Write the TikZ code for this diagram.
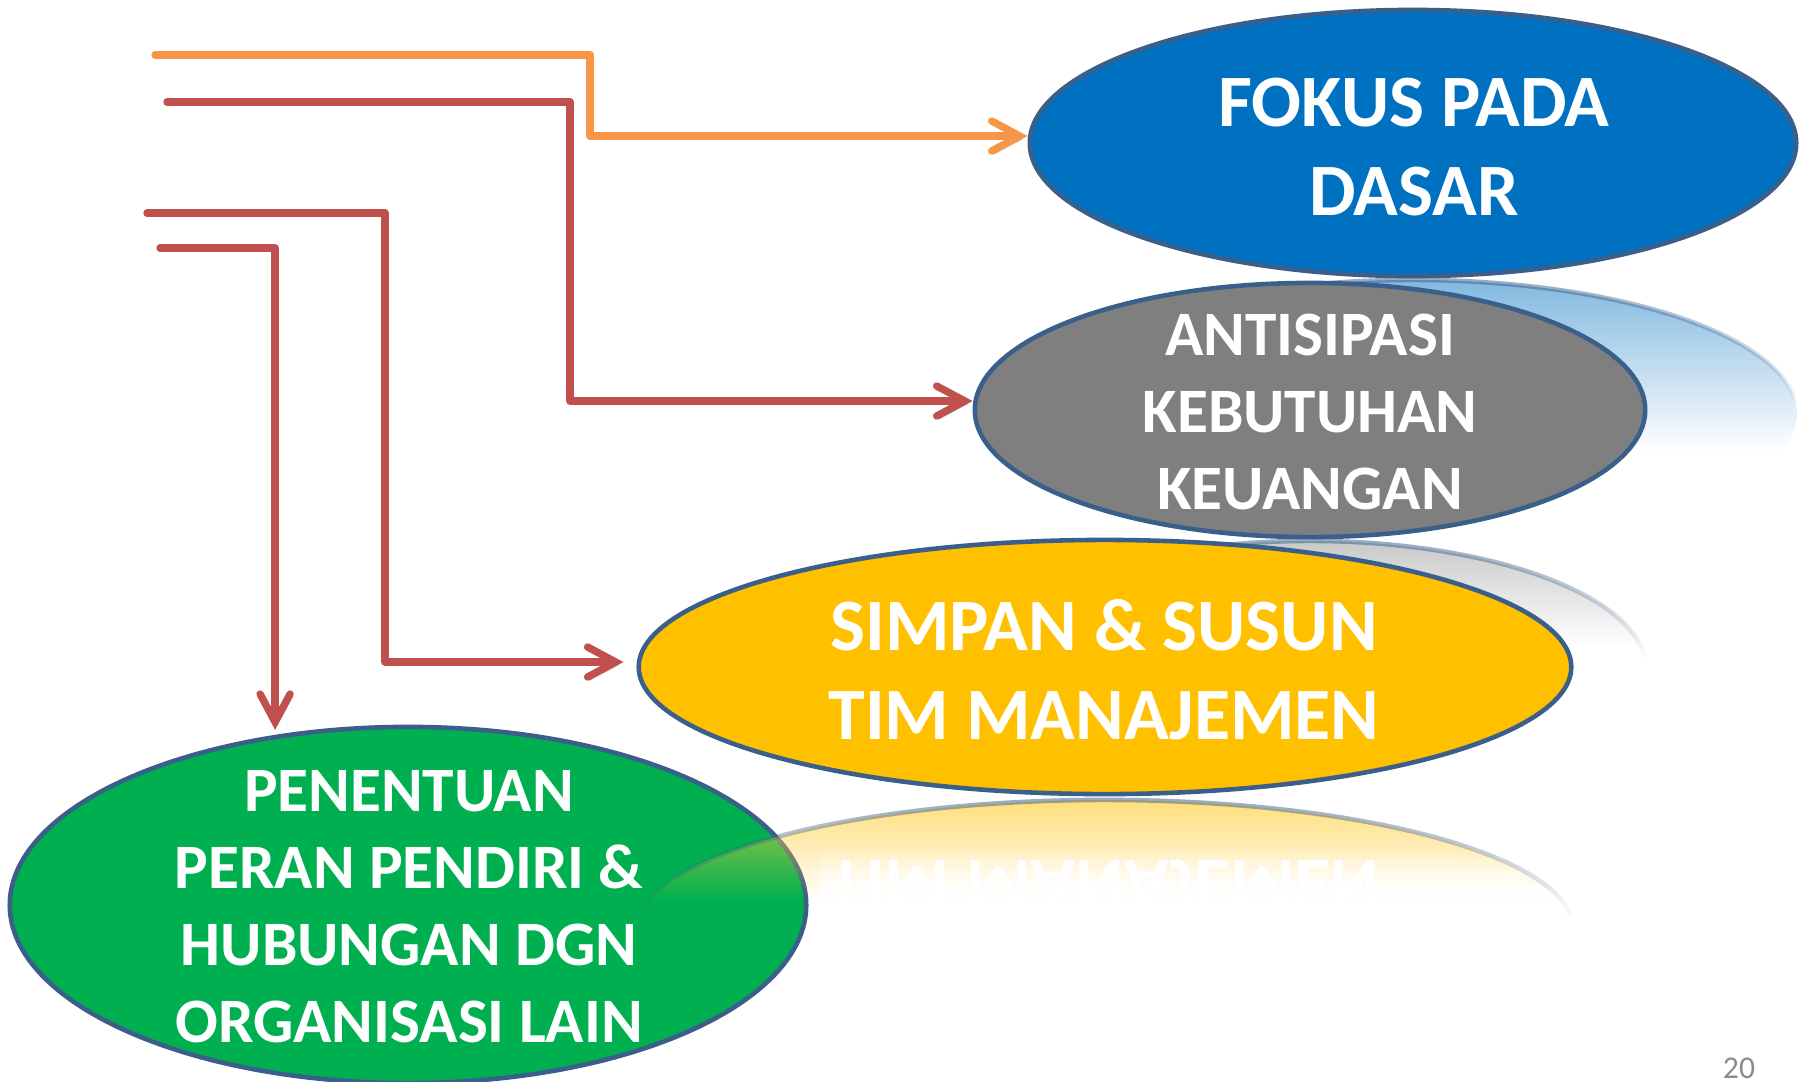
\documentclass[tikz,border=0pt]{standalone}
\usepackage{fontspec}
\setmainfont{Carlito}
\usetikzlibrary{arrows.meta,shapes.geometric,fadings}

\definecolor{fokusblue}{HTML}{0070C0}
\definecolor{keugray}{HTML}{7F7F7F}
\definecolor{timyellow}{HTML}{FFC000}
\definecolor{perangreen}{HTML}{00B050}
\definecolor{rimblue}{HTML}{3A5F8B}
\definecolor{lineorange}{HTML}{F79646}
\definecolor{linered}{HTML}{C0504D}
\definecolor{pagegray}{HTML}{8C8C8C}

\tikzfading[name=reflfade, top color=transparent!30, bottom color=transparent!100]
\tikzfading[name=rimfade, top color=transparent!45, bottom color=transparent!100]
\tikzfading[name=whiteout, top color=transparent!100, bottom color=transparent!0]

\tikzset{
  bubble/.style={ellipse, draw=rimblue, line width=1.3pt, inner sep=0pt},
  rim/.style={draw=rimblue, line width=1.3pt, path fading=rimfade},
  bigtext/.style={text=white, font=\fontsize{21}{25.3}\selectfont\bfseries, align=center},
  smalltext/.style={text=white, font=\fontsize{18}{21.9}\selectfont\bfseries, align=center},
  flow/.style={line width=2.1pt, line join=round, line cap=round,
    -{Straight Barb[length=2.8mm,width=3mm,line cap=round]},
    preaction={draw=black!22, transform canvas={shift={(2,3)}}}},
}

\begin{document}
\begin{tikzpicture}[x=0.01cm,y=-0.01cm]
  \fill[white] (0,0) rectangle (1812,1081);
  \useasboundingbox (0,0) rectangle (1812,1081);

  % reflection under FOKUS PADA DASAR
  \begin{scope}
    \clip (1413,414) ellipse [x radius=3.84cm, y radius=1.34cm];
    \fill[fokusblue!70, path fading=reflfade] (1029,280) rectangle (1797,450);
  \end{scope}
  \draw[rim] ([shift={(175:3.84cm and 1.34cm)}]1413,414) arc[start angle=175, end angle=5, x radius=3.84cm, y radius=1.34cm];
  \node[bubble, fill=fokusblue, minimum width=7.66cm, minimum height=2.66cm] (fokus) at (1413,143) {};
  \node[bigtext] (fokustext) at (1414,147) {FOKUS PADA\\DASAR};

  % reflection under ANTISIPASI
  \begin{scope}
    \clip (1310,669) ellipse [x radius=3.36cm, y radius=1.28cm];
    \fill[keugray!60, path fading=reflfade] (974,541) rectangle (1647,645);
  \end{scope}
  \draw[rim] ([shift={(175:3.36cm and 1.28cm)}]1310,669) arc[start angle=175, end angle=5, x radius=3.36cm, y radius=1.28cm];
  \node[bubble, fill=keugray, minimum width=6.70cm, minimum height=2.54cm] (antisipasi) at (1310,410) {};
  \node[smalltext] (antisipasitext) at (1310,412) {ANTISIPASI\\KEBUTUHAN\\KEUANGAN};

  \node[bubble, fill=timyellow, minimum width=9.32cm, minimum height=2.54cm] (simpan) at (1105,667) {};
  \node[bigtext] (simpantext) at (1104,670) {SIMPAN \& SUSUN\\TIM MANAJEMEN};

  \node[bubble, fill=perangreen, minimum width=7.96cm, minimum height=3.56cm] (penentuan) at (408,905) {};
  \node[smalltext] (penentuantext) at (409,907) {PENENTUAN\\PERAN PENDIRI \&\\HUBUNGAN DGN\\ORGANISASI LAIN};

  % reflection under SIMPAN & SUSUN
  \begin{scope}
    \clip (1105,928) ellipse [x radius=4.67cm, y radius=1.28cm];
    \fill[timyellow!75, path fading=reflfade] (638,800) rectangle (1572,900);
    \node[bigtext, yscale=-1] (simpanmirror) at (1104,884) {TIM MANAJEMEN};
    \fill[white, path fading=whiteout] (820,850) rectangle (1572,900);
  \end{scope}
  \draw[rim] ([shift={(175:4.67cm and 1.28cm)}]1105,928) arc[start angle=175, end angle=5, x radius=4.67cm, y radius=1.28cm];

  % connectors
  \coordinate (fokusstart) at (155,55);
  \coordinate (fokusbend) at (590,136);
  \coordinate (antisipasistart) at (167,102);
  \coordinate (antisipasibend) at (570,401);
  \coordinate (simpanstart) at (147,213);
  \coordinate (simpanbend) at (385,662);
  \coordinate (penentuanstart) at (160,248);

  \draw[flow, lineorange] (fokusstart) -| (fokusbend) -- (fokus.west |- fokusbend);
  \draw[flow, linered] (antisipasistart) -| (antisipasibend) -- (antisipasi.west |- antisipasibend);
  \draw[flow, linered, shorten >=1.3mm] (simpanstart) -| (simpanbend) -- (simpan.west |- simpanbend);
  \draw[flow, linered, shorten >=0.5mm] (penentuanstart) -| (penentuan.128);

  \node[text=pagegray, font=\fontsize{9}{11}\selectfont] (pagenum) at (1739,1068) {20};
\end{tikzpicture}
\end{document}
